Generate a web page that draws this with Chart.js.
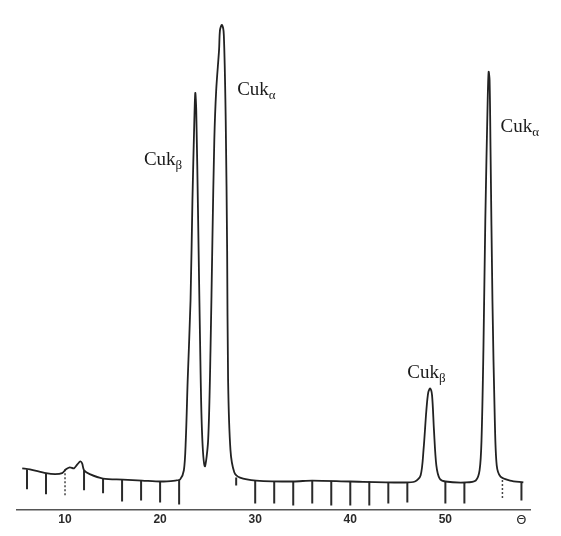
<!DOCTYPE html>
<html>
<head>
<meta charset="utf-8">
<script src="https://cdn.jsdelivr.net/npm/chart.js@4/dist/chart.umd.min.js"></script>
<style>
  html, body { margin: 0; padding: 0; background: #ffffff; }
  canvas { display: block; }
</style>
</head>
<body>
<canvas id="chartXrd" width="561" height="536"></canvas>
<script>
// Difractograma, ângulo Θ contra intensidade (unidades arbitrárias)
const theta = [5.5, 6.3, 8.0, 8.95, 9.7, 10.1, 10.5, 10.95, 11.3, 11.6, 11.8, 12.0, 12.6, 14.0, 16.1, 18.1, 20.1, 21.6, 22.1,
    22.5, 22.7, 22.9, 23.2, 23.4, 23.6, 23.7, 23.8, 24.0, 24.2, 24.4, 24.7,
    25.05, 25.3, 25.5, 25.7, 25.9, 26.2, 26.3, 26.5, 26.7, 26.9, 27.05, 27.15, 27.4, 27.8, 28.4,
    30.1, 34.0, 36.0, 40.0, 45.3, 46.8,
    47.4, 47.7, 48.0, 48.2, 48.4, 48.6, 48.8, 49.05, 49.4, 50.0, 52.1,
    53.2, 53.6, 53.8, 54.0, 54.2, 54.45, 54.55, 54.65, 54.75, 54.95, 55.2, 55.4, 55.8, 56.8, 58.2];
const intensidade = [8.4, 8.2, 7.4, 7.2, 7.4, 8.2, 8.6, 8.4, 9.2, 9.8, 9.4, 8.0, 7.2, 6.3, 6.1, 5.9, 5.7, 5.9, 6.1,
    8.0, 14.1, 26.4, 42.7, 63.2, 79.5, 85.1, 81.6, 59.1, 34.6, 16.2, 8.8,
    14.1, 32.5, 55.0, 75.5, 85.7, 93.9, 98.0, 99.0, 97.0, 79.5, 52.8, 26.4, 12.1, 7.6, 6.5,
    5.9, 5.7, 5.9, 5.7, 5.5, 5.7,
    7.0, 12.1, 20.2, 23.9, 24.7, 23.3, 16.2, 9.0, 6.3, 5.7, 5.5,
    5.9, 8.0, 14.1, 32.5, 59.1, 83.6, 89.4, 87.7, 73.4, 42.7, 18.2, 9.0, 6.7, 5.9, 5.5];

// marcas verticais que descem da linha de base
const marcas = [6, 8, 12, 14, 16, 18, 20, 22, 28, 30, 32, 34, 36, 38, 40, 42, 44, 46, 50, 52, 58];
const marcasTopo = [8.2, 7.4, 8.0, 6.3, 6.1, 5.9, 5.7, 6.1, 6.5, 5.9, 5.8, 5.7, 5.9, 5.8, 5.7, 5.7, 5.6, 5.6, 5.7, 5.5, 5.5];
const marcasBase = [4.1, 3.1, 3.9, 3.3, 1.6, 1.8, 1.4, 1.0, 4.9, 1.2, 1.2, 0.8, 1.2, 0.8, 0.8, 0.8, 1.2, 1.4, 1.2, 1.2, 1.8];
const marcasTracejadas = [10, 56];
const tracejadasTopo = [8.2, 6.0];
const tracejadasBase = [2.5, 2.2];

const ticksX = [10, 20, 30, 40, 50, 58];

// rótulos dos picos
const rotulos = [
    { texto: 'Cuk', sub: 'β', x: 18.3, y: 70.3 },
    { texto: 'Cuk', sub: 'α', x: 28.1, y: 84.7 },
    { texto: 'Cuk', sub: 'β', x: 46.0, y: 26.8 },
    { texto: 'Cuk', sub: 'α', x: 55.8, y: 77.1 }
];

function segmentos(xs, topos, bases) {
    const pts = [];
    xs.forEach(function (x, i) {
        pts.push({ x: x, y: topos[i] });
        pts.push({ x: x, y: bases[i] });
        pts.push({ x: x, y: null });
    });
    return pts;
}

const pluginRotulos = {
    id: 'rotulos',
    afterDatasetsDraw(chart) {
        const ctx = chart.ctx;
        const sx = chart.scales.x, sy = chart.scales.y;
        ctx.save();
        ctx.fillStyle = '#1a1a1a';
        ctx.textBaseline = 'alphabetic';
        rotulos.forEach(function (r) {
            const px = sx.getPixelForValue(r.x);
            const py = sy.getPixelForValue(r.y);
            ctx.font = '19px "Liberation Serif", "Times New Roman", serif';
            ctx.fillText(r.texto, px, py);
            const w = ctx.measureText(r.texto).width;
            ctx.font = '13px "Liberation Serif", "Times New Roman", serif';
            ctx.fillText(r.sub, px + w, py + 4);
        });
        ctx.restore();
    }
};

new Chart(document.getElementById('chartXrd'), {
    type: 'scatter',
    data: {
        datasets: [{
            data: theta.map(function (t, i) { return { x: t, y: intensidade[i] }; }),
            showLine: true,
            borderColor: '#222222',
            borderWidth: 1.8,
            pointRadius: 0,
            tension: 0.3
        }, {
            data: segmentos(marcas, marcasTopo, marcasBase),
            showLine: true,
            spanGaps: false,
            borderColor: '#2a2a2a',
            borderWidth: 2,
            pointRadius: 0
        }, {
            data: segmentos(marcasTracejadas, tracejadasTopo, tracejadasBase),
            showLine: true,
            spanGaps: false,
            borderColor: '#444444',
            borderWidth: 1.5,
            borderDash: [2, 2],
            pointRadius: 0
        }]
    },
    options: {
        responsive: false,
        animation: false,
        layout: { padding: { left: 17, right: 31, top: 20, bottom: 5 } },
        scales: {
            x: {
                type: 'linear',
                min: 4.95,
                max: 58.9,
                afterBuildTicks: function (axis) {
                    axis.ticks = ticksX.map(function (v) { return { value: v }; });
                },
                ticks: {
                    color: '#2a2a2a',
                    font: function (c) {
                        if (c.tick && c.tick.value === 58) {
                            return { family: 'DejaVu Sans', size: 13, weight: 'normal' };
                        }
                        return { family: 'Liberation Sans', size: 12, weight: 'bold' };
                    },
                    padding: 3,
                    maxRotation: 0,
                    callback: function (v) { return v === 58 ? 'Θ' : v; }
                },
                grid: { display: false, drawTicks: false, tickLength: 0 },
                border: { display: true, color: '#555555', width: 1.5 }
            },
            y: {
                display: false,
                min: 0,
                max: 100
            }
        },
        plugins: {
            legend: { display: false },
            tooltip: { enabled: false }
        }
    },
    plugins: [pluginRotulos]
});
</script>
</body>
</html>
